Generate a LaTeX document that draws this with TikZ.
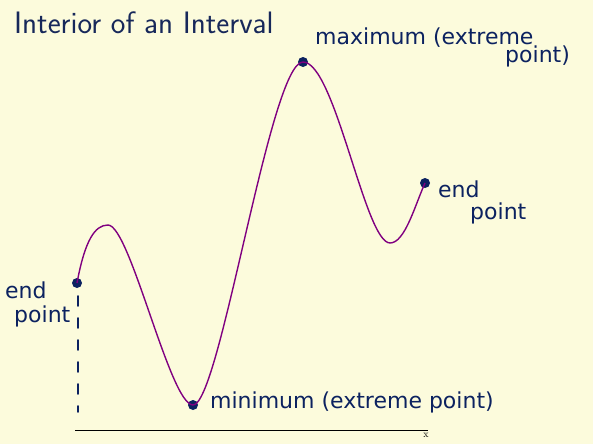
\documentclass[tikz,border=0pt]{standalone}
\usepackage{fontspec}
\newfontfamily\handfont{DejaVu Sans}
\definecolor{bgyellow}{HTML}{FCFBDC}
\definecolor{navy}{HTML}{0C2260}
\definecolor{titleblue}{HTML}{17285A}
\definecolor{curvepurple}{HTML}{800080}
\begin{document}
\begin{tikzpicture}[x=1pt,y=-1pt,
  hand/.style={text=navy,font=\handfont\fontsize{22}{22}\selectfont,inner sep=0pt,anchor=base west},
  dotpt/.style={circle,fill=navy,inner sep=0pt,minimum size=10pt},
  curve/.style={draw=curvepurple,line width=1.4pt},
  axis/.style={draw=black,line width=0.8pt}]
\fill[bgyellow] (0,0) rectangle (593,444);
\useasboundingbox (0,0) rectangle (593,444);
% title
\node[anchor=base west,text=titleblue,font=\sffamily\fontsize{31}{31}\selectfont,inner sep=0pt] (title) at (14,34) {Interior of an Interval};
% points
\node[dotpt] (leftend) at (77,283) {};
\node[dotpt] (minpt) at (193,405) {};
\node[dotpt] (maxpt) at (303,62) {};
\node[dotpt] (rightend) at (425,183) {};
% curve
\draw[curve] (leftend.center) .. controls (85,240) and (95,225) .. (108,225)
  .. controls (130,225) and (170,405) .. (minpt.center)
  .. controls (220,405) and (270,62) .. (maxpt.center)
  .. controls (335,62) and (365,243) .. (390,243)
  .. controls (405,243) and (415,205) .. (rightend.center);
% dashed vertical line
\coordinate (dashtop) at (78,296);
\coordinate (dashbot) at (78,412);
\draw[navy,line width=1.6pt,line cap=round,dash pattern=on 10pt off 12pt] (dashtop) -- (dashbot);
% x axis
\coordinate (axl) at (75,430);
\coordinate (axr) at (428,430);
\draw[axis] (axl) -- (axr);
\node[anchor=north,font=\rmfamily\fontsize{10}{10}\selectfont,inner sep=1pt] (xlab) at (426,432) {x};
% labels
\node[hand] (lblmax) at (315,45) {maximum (extreme};
\node[hand] (lblmaxpt) at (505,62) {point)};
\node[hand] (lblrend) at (438,197) {end};
\node[hand] (lblrpt) at (470,219) {point};
\node[hand] (lbllend) at (5,298) {end};
\node[hand] (lbllpt) at (14,322) {point};
\node[hand] (lblmin) at (210,408) {minimum (extreme point)};
\end{tikzpicture}
\end{document}
